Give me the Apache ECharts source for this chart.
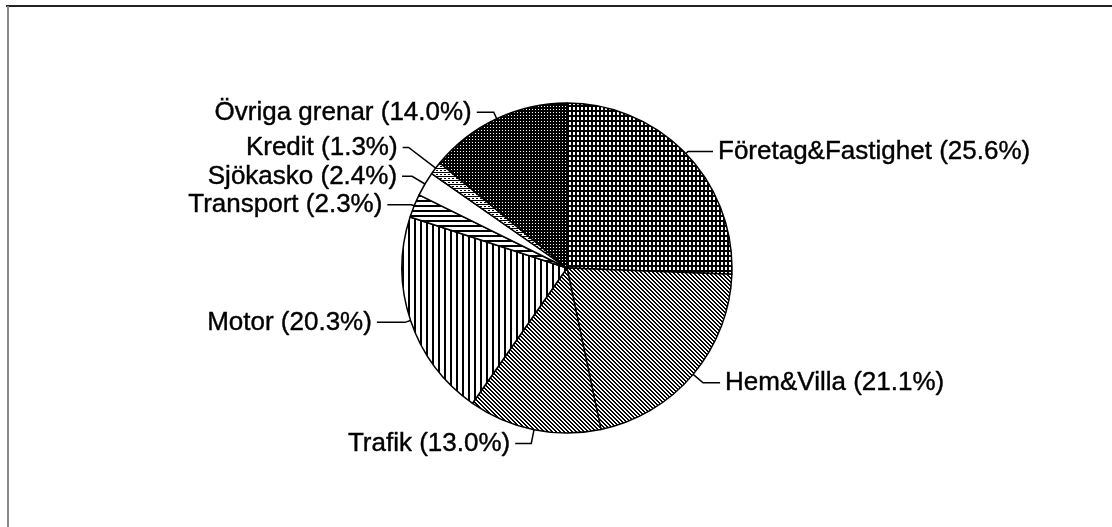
<!DOCTYPE html>
<html>
<head>
<meta charset="utf-8">
<script src="https://cdn.jsdelivr.net/npm/echarts@6/dist/echarts.min.js"></script>
<style>
  html, body { margin: 0; padding: 0; background: #fff; }
  #chart { width: 1112px; height: 527px; }
</style>
</head>
<body>
<div id="chart"></div>
<script>
// Försäkringsgrenar, andel av premier (%)
const branches = ['Företag&Fastighet', 'Hem&Villa', 'Trafik', 'Motor', 'Transport', 'Sjökasko', 'Kredit', 'Övriga grenar'];
const shares = [25.6, 21.1, 13.0, 20.3, 2.3, 2.4, 1.3, 14.0];

// styling per slice: fill tile and leader line lengths [radial, horizontal]
const fills = ['grid', 'diag', 'diag', 'vert', 'horiz', 'white', 'horizFine', 'dark'];
const leaders = [[3, 25], [13, 17], [14, 16], [6, 28], [3, 24], [15, 10], [34, 6], [7, 17]];

// small hatch tiles, like the old b/w print fills
function tile(w, h, draw) {
  const c = document.createElement('canvas');
  c.width = w; c.height = h;
  const ctx = c.getContext('2d');
  ctx.fillStyle = '#fff';
  ctx.fillRect(0, 0, w, h);
  ctx.fillStyle = '#000';
  draw(ctx);
  return { image: c, repeat: 'repeat' };
}

const patterns = {
  grid: tile(4, 5, ctx => {
    ctx.fillRect(0, 0, 4, 2);
    ctx.fillRect(0, 0, 1, 5);
    ctx.fillRect(3, 0, 1, 5);
  }),
  diag: tile(4, 4, ctx => {
    for (let i = 0; i < 4; i++) {
      ctx.fillRect(i, i, 1, 1);
      ctx.fillRect((i + 1) % 4, i, 1, 1);
    }
  }),
  vert: tile(6, 4, ctx => {
    ctx.fillRect(0, 0, 2, 4);
  }),
  horiz: tile(4, 5, ctx => {
    ctx.fillRect(0, 0, 4, 2);
  }),
  horizFine: tile(4, 4, ctx => {
    ctx.fillRect(0, 0, 4, 1);
    ctx.fillRect(0, 2, 2, 1);
  }),
  white: '#fff',
  dark: tile(3, 3, ctx => {
    ctx.fillRect(0, 0, 3, 3);
    ctx.fillStyle = '#fff';
    ctx.fillRect(1, 1, 1, 1);
  })
};

const chart = echarts.init(document.getElementById('chart'));

const option = {
  backgroundColor: '#fff',
  animation: false,
  graphic: [
    {
      type: 'line',
      shape: { x1: 6, y1: 6, x2: 1112, y2: 6 },
      style: { stroke: '#222', lineWidth: 2 },
      silent: true
    },
    {
      type: 'line',
      shape: { x1: 8, y1: 6, x2: 8, y2: 527 },
      style: { stroke: '#888', lineWidth: 2 },
      silent: true
    }
  ],
  series: [
    {
      type: 'pie',
      center: [567, 268],
      radius: 165,
      startAngle: 90,
      clockwise: true,
      avoidLabelOverlap: false,
      itemStyle: {
        borderColor: '#000',
        borderWidth: 1.5
      },
      label: {
        show: true,
        position: 'outside',
        color: '#000',
        fontSize: 26,
        lineHeight: 28,
        textBorderColor: '#000',
        textBorderWidth: 0.4,
        fontFamily: 'Arial, "Liberation Sans", sans-serif',
        formatter: p => `${p.name} (${p.value.toFixed(1)}%)`
      },
      labelLine: {
        show: true,
        lineStyle: { color: '#000', width: 1.5 }
      },
      emphasis: { disabled: true },
      data: branches.map((name, i) => ({
        name,
        value: shares[i],
        itemStyle: { color: patterns[fills[i]] },
        labelLine: { length: leaders[i][0], length2: leaders[i][1] }
      }))
    }
  ]
};

chart.setOption(option);
</script>
</body>
</html>
